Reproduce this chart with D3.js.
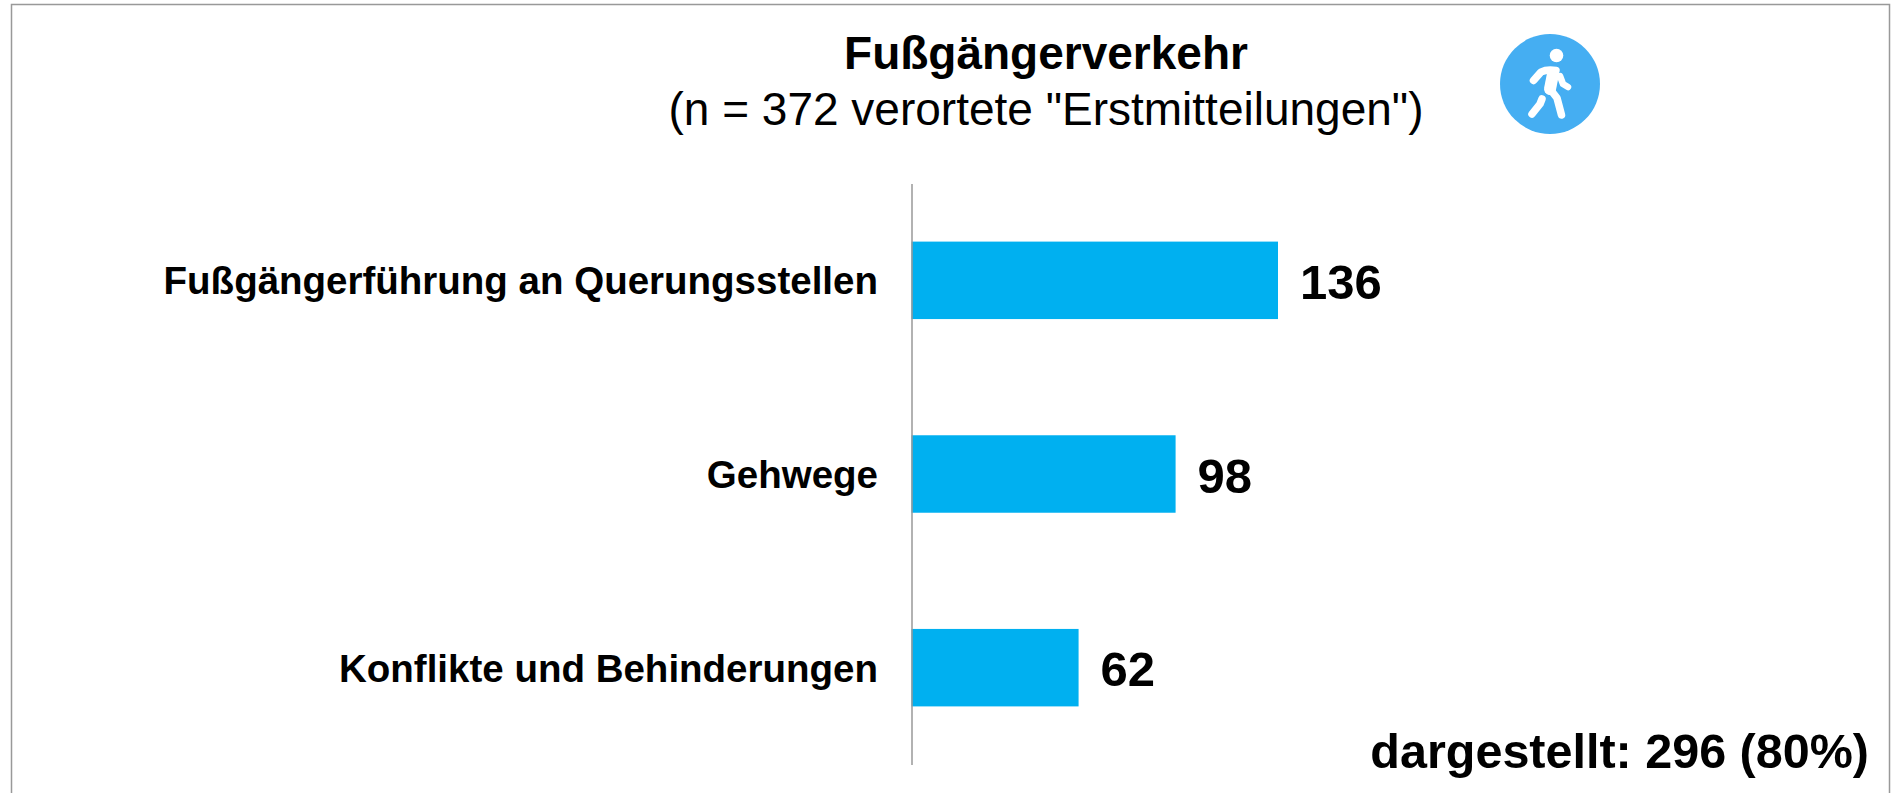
<!DOCTYPE html>
<html lang="de">
<head>
    <meta charset="utf-8">
    <title>Fußgängerverkehr</title>
    <script src="https://d3js.org/d3.v7.min.js"></script>
    <style>
        html, body { margin: 0; padding: 0; background: #fff; overflow: hidden; }
        svg { display: block; font-family: "Liberation Sans", Arial, sans-serif; }
    </style>
</head>
<body>
<script>
    var w = 1902;
    var h = 793;

    // data
    var categories = ["Fußgängerführung an Querungsstellen", "Gehwege", "Konflikte und Behinderungen"];
    var values = [136, 98, 62];
    var titleText = "Fußgängerverkehr";
    var subtitleText = '(n = 372 verortete "Erstmitteilungen")';
    var summaryText = "dargestellt: 296 (80%)";

    var svg = d3.select("body").append("svg")
        .attr("width", w)
        .attr("height", h);

    // outer frame, its bottom edge is cut off by the page
    svg.append("rect")
        .attr("x", 11.5).attr("y", 4.5)
        .attr("width", 1878).attr("height", 820)
        .attr("fill", "none")
        .attr("stroke", "#999")
        .attr("stroke-width", 1.5);

    var x = d3.scaleLinear().domain([0, 136]).range([911.5, 1278]);
    var y = d3.scaleBand().domain(categories).range([183.5, 764.5]).paddingInner(0.6).paddingOuter(0.3);

    svg.selectAll(".bar")
        .data(values)
        .enter().append("rect")
        .attr("class", "bar")
        .attr("x", x(0))
        .attr("y", function(d, i) { return y(categories[i]); })
        .attr("width", function(d) { return x(d) - x(0); })
        .attr("height", y.bandwidth())
        .attr("fill", "#00b0f0");

    var axis = svg.append("g")
        .attr("transform", "translate(" + x(0) + ",0)")
        .call(d3.axisLeft(y).tickSize(0).tickPadding(33.5));
    axis.select(".domain").attr("stroke", "#999").attr("stroke-width", 1.5);
    axis.selectAll("text")
        .attr("font-family", "Liberation Sans")
        .attr("font-size", 38.5)
        .attr("font-weight", "bold")
        .attr("dy", "0.36em")
        .attr("fill", "#000");

    svg.selectAll(".value")
        .data(values)
        .enter().append("text")
        .attr("class", "value")
        .attr("x", function(d) { return x(d) + 22; })
        .attr("y", function(d, i) { return y(categories[i]) + y.bandwidth() / 2; })
        .attr("dy", "0.38em")
        .attr("font-size", 49)
        .attr("font-weight", "bold")
        .text(function(d) { return d; });

    svg.append("text")
        .attr("x", 1046).attr("y", 69)
        .attr("text-anchor", "middle")
        .attr("font-size", 46)
        .attr("font-weight", "bold")
        .text(titleText);

    svg.append("text")
        .attr("x", 1046).attr("y", 125)
        .attr("text-anchor", "middle")
        .attr("font-size", 46)
        .text(subtitleText);

    svg.append("text")
        .attr("x", 1869).attr("y", 768)
        .attr("text-anchor", "end")
        .attr("font-size", 48.5)
        .attr("font-weight", "bold")
        .text(summaryText);

    // pedestrian icon
    var icon = svg.append("g").attr("transform", "translate(1550,84)")
        .attr("fill", "none").attr("stroke", "#fff")
        .attr("stroke-linecap", "round").attr("stroke-linejoin", "round");
    icon.append("circle").attr("r", 50).attr("fill", "#45aef2").attr("stroke", "none");
    icon.append("circle").attr("cx", 6.5).attr("cy", -28.5).attr("r", 6.8).attr("fill", "#fff").attr("stroke", "none");
    // back arm, front arm, torso, front leg, back leg
    icon.append("path").attr("d", "M-16.5,-3.5 L-9,-12 Q-3,-15 6,-13.5").attr("stroke-width", 7.5);
    icon.append("path").attr("d", "M10,-8 L13,0 L18,3").attr("stroke-width", 6.5);
    icon.append("path").attr("d", "M3,-10 L0,5").attr("stroke-width", 12);
    icon.append("path").attr("d", "M0,5 L7,14 L11.5,31").attr("stroke-width", 7.5);
    icon.append("path").attr("d", "M-8,15 L-10,20 L-18,30").attr("stroke-width", 7.5);
</script>
</body>
</html>
